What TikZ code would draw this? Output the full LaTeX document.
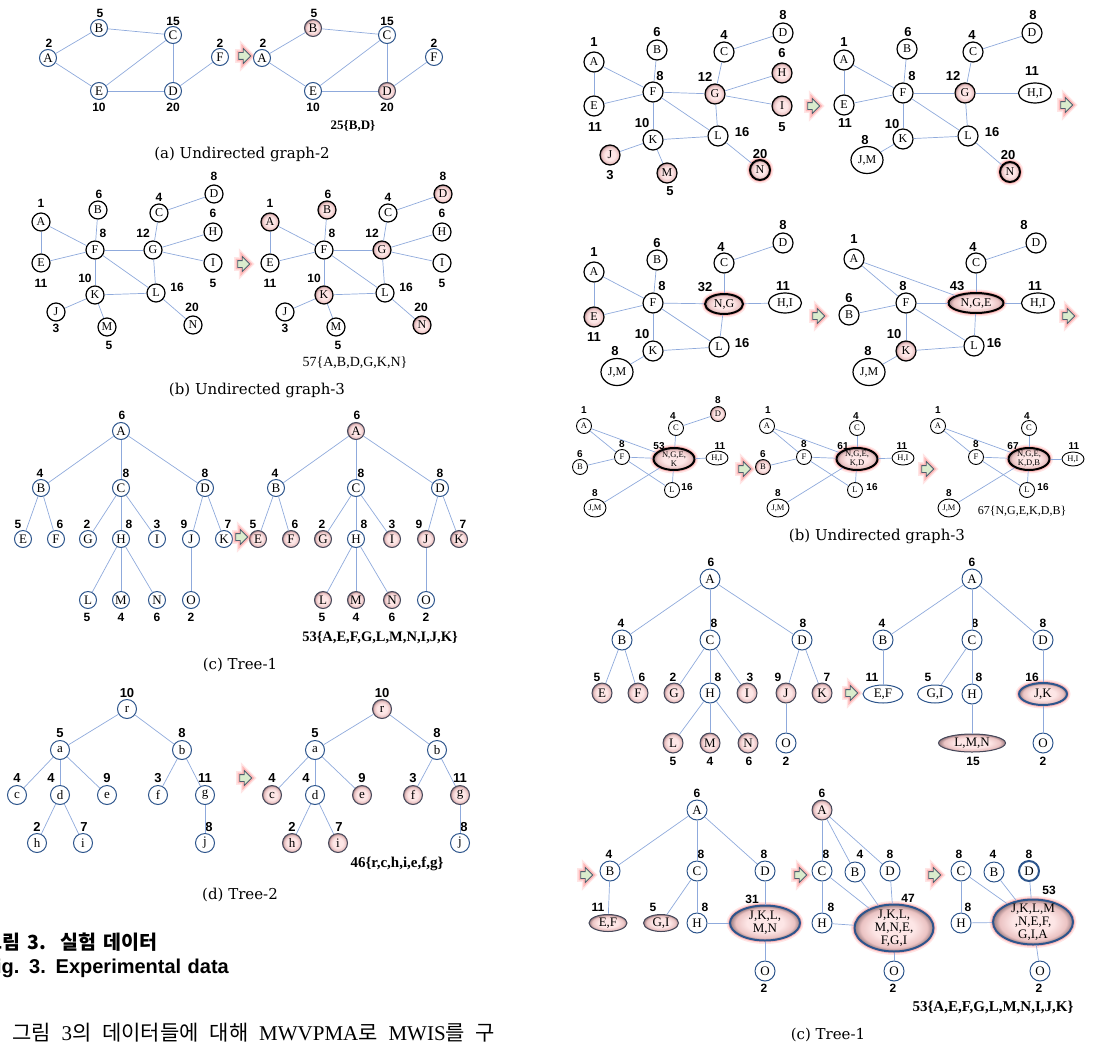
\documentclass[tikz,border=0pt]{standalone}
\usepackage{fontspec}
\setmainfont{Liberation Serif}
\setsansfont{Liberation Sans}
\newfontfamily\capfont{DejaVu Serif}
\newfontfamily\cjk{Noto Sans CJK KR}
\usetikzlibrary{shapes.geometric,shapes.arrows}

\definecolor{nblue}{RGB}{45,85,140}
\definecolor{eblue}{RGB}{143,170,220}
\definecolor{shd}{RGB}{70,72,90}
\definecolor{pk1}{RGB}{253,230,230}
\definecolor{pk2}{RGB}{235,195,195}
\definecolor{pk3}{RGB}{150,120,125}
\definecolor{agreen}{RGB}{218,236,205}
\definecolor{agray}{RGB}{80,95,110}
\pgfdeclareradialshading{pinkball}{\pgfpoint{0bp}{0bp}}{color(0bp)=(pk1); color(13bp)=(pk1); color(21bp)=(pk2); color(25bp)=(pk3); color(50bp)=(pk3)}

\newcommand\fs[1]{\fontsize{#1}{#1}\selectfont}
% vertex with its weight: [style]{name}{pos}{text}{weight pos}{weight}
\newcommand\gv[6][]{\node[nd,#1] (#2) at (#3) {#4}; \node[wt=\ws] (#2w) at (#5) {#6};}

\begin{document}
\begin{tikzpicture}[x=1pt,y=-1pt,
  nd/.style={circle, draw=nblue, line width=1pt, fill=white, inner sep=0pt, minimum size=\vs, align=center, font=\fs{\vf}},
  kn/.style={draw=black, line width=1.2pt},
  sh/.style={shade, shading=pinkball},
  shb/.style={sh, draw=shd},
  thk/.style={line width=2pt},
  glow/.style={preaction={draw=red!40, line width=7pt, opacity=0.25}, preaction={draw=red!60, line width=4pt, opacity=0.35}},
  eg/.style={draw=eblue, line width=0.7pt},
  wt/.style={font=\sffamily\bfseries\fs{#1}, inner sep=0pt},
  arr/.style={single arrow, draw=agray, fill=agreen, line width=0.8pt, inner sep=3pt, minimum height=12pt, single arrow head extend=4pt, glow},
  res/.style={font=\bfseries\fs{#1}, inner sep=0pt},
  rres/.style={font=\fs{#1}, inner sep=0pt},
  figcap/.style={font=\capfont\fs{15}, inner sep=0pt}]
\useasboundingbox (0,0) rectangle (1107,1049);

% (a) Undirected graph-2
\def\vs{17pt}\def\vf{13}\def\ws{12}
\gv{aLA}{48,58}{A}{49,43}{2}
\gv{aLB}{99,28}{B}{100,13}{5}
\gv{aLC}{173,35}{C}{173,21}{15}
\gv{aLD}{173,91}{D}{173,107}{20}
\gv{aLE}{99,91}{E}{99,107}{10}
\gv{aLF}{220,57}{F}{220,43}{2}
\node[arr] (aArr) at (243,56) {};
\gv{aRA}{262,58}{A}{263,43}{2}
\gv[shb]{aRB}{313,28}{B}{314,13}{5}
\gv{aRC}{387,35}{C}{387,21}{15}
\gv[shb]{aRD}{387,91}{D}{387,107}{20}
\gv{aRE}{313,91}{E}{313,107}{10}
\gv{aRF}{434,57}{F}{434,43}{2}
\foreach \g in {aL,aR}
  \foreach \u/\v in {A/B,A/E,B/C,C/E,C/D,E/D,D/F}
    \draw[eg] (\g\u) -- (\g\v);
\node[res=13] (aRes) at (353,126) {25\{B,D\}};
\node[figcap] (aCap) at (242,154) {(a) Undirected graph-2};

% (b) Undirected graph-3
\def\vs{18pt}\def\vf{12}\def\ws{12}
\gv[kn]{bLA}{41,222}{A}{41,203}{1}
\gv[kn]{bLB}{98,210}{B}{99,194}{6}
\gv[kn]{bLC}{159,213}{C}{159,197}{4}
\gv[kn]{bLD}{214,194}{D}{214,176}{8}
\gv[kn]{bLE}{41,263}{E}{41,283}{11}
\gv[kn]{bLF}{95,250}{F}{103,233}{8}
\gv[kn]{bLG}{153,250}{G}{143,233}{12}
\gv[kn]{bLH}{213,232}{H}{213,213}{6}
\gv[kn]{bLI}{213,263}{I}{213,283}{5}
\gv[kn]{bLK}{95,295}{K}{85,278}{10}
\gv[kn]{bLL}{156,293}{L}{177,287}{16}
\gv[kn]{bLJ}{56,312}{J}{56,328}{3}
\gv[kn]{bLM}{107,327}{M}{109,345}{5}
\gv[kn]{bLN}{193,325}{N}{192,307}{20}
\node[arr] (bArr) at (242,264) {};
\gv[kn,sh]{bRA}{270,222}{A}{270,203}{1}
\gv[kn,sh]{bRB}{327,210}{B}{328,194}{6}
\gv[kn]{bRC}{388,213}{C}{388,197}{4}
\gv[kn,sh]{bRD}{443,194}{D}{443,176}{8}
\gv[kn]{bRE}{270,263}{E}{270,283}{11}
\gv[kn]{bRF}{324,250}{F}{332,233}{8}
\gv[kn,sh]{bRG}{382,250}{G}{372,233}{12}
\gv[kn]{bRH}{442,232}{H}{442,213}{6}
\gv[kn]{bRI}{442,263}{I}{442,283}{5}
\gv[kn,sh]{bRK}{324,295}{K}{314,278}{10}
\gv[kn]{bRL}{385,293}{L}{406,287}{16}
\gv[kn]{bRJ}{285,312}{J}{285,328}{3}
\gv[kn]{bRM}{336,327}{M}{338,345}{5}
\gv[kn,sh]{bRN}{422,325}{N}{421,307}{20}
\node[rres=14] (bRes) at (355,363) {57\{A,B,D,G,K,N\}};
\node[figcap] (bCap) at (257,390) {(b) Undirected graph-3};

% (c) Tree-1
\def\vs{17pt}\def\vf{13}\def\ws{12}
\gv{cLA}{121,431}{A}{122,415}{6}
\gv{cLB}{41,488}{B}{40,473}{4}
\gv{cLC}{121,488}{C}{126,473}{8}
\gv{cLD}{205,488}{D}{205,473}{8}
\gv{cLE}{23,539}{E}{18,524}{5}
\gv{cLF}{56,539}{F}{60,524}{6}
\gv{cLG}{88,539}{G}{87,524}{2}
\gv{cLH}{121,539}{H}{129,524}{8}
\gv{cLI}{157,539}{I}{157,524}{3}
\gv{cLJ}{191,539}{J}{184,524}{9}
\gv{cLK}{224,539}{K}{228,524}{7}
\gv{cLL}{88,600}{L}{87,617}{5}
\gv{cLM}{121,600}{M}{121,617}{4}
\gv{cLN}{157,600}{N}{157,617}{6}
\gv{cLO}{191,600}{O}{191,617}{2}
\gv[shb]{cRA}{356,431}{A}{357,415}{6}
\gv{cRB}{276,488}{B}{275,473}{4}
\gv{cRC}{356,488}{C}{361,473}{8}
\gv{cRD}{440,488}{D}{440,473}{8}
\gv[shb]{cRE}{258,539}{E}{253,524}{5}
\gv[shb]{cRF}{291,539}{F}{295,524}{6}
\gv[shb]{cRG}{323,539}{G}{322,524}{2}
\gv{cRH}{356,539}{H}{364,524}{8}
\gv[shb]{cRI}{392,539}{I}{392,524}{3}
\gv[shb]{cRJ}{426,539}{J}{419,524}{9}
\gv[shb]{cRK}{459,539}{K}{463,524}{7}
\gv[shb]{cRL}{323,600}{L}{322,617}{5}
\gv[shb]{cRM}{356,600}{M}{356,617}{4}
\gv[shb]{cRN}{392,600}{N}{392,617}{6}
\gv{cRO}{426,600}{O}{426,617}{2}
\node[arr] (cArr) at (240,537) {};
\foreach \g in {cL,cR}
  \foreach \u/\v in {A/B,A/C,A/D,B/E,B/F,C/G,C/H,C/I,D/J,D/K,H/L,H/M,H/N,J/O}
    \draw[eg] (\g\u) -- (\g\v);
\node[res=14.5] (cRes) at (380,638) {53\{A,E,F,G,L,M,N,I,J,K\}};
\node[figcap] (cCap) at (240,665) {(c) Tree-1};

% (d) Tree-2
\def\vs{19pt}\def\vf{13}\def\ws{13}
\gv{dLr}{127,709}{r}{127,693}{10}
\gv{dLa}{60,750}{a}{60,733}{5}
\gv{dLb}{182,750}{b}{182,733}{8}
\gv{dLc}{17,795}{c}{17,778}{4}
\gv{dLd}{60,795}{d}{51,778}{4}
\gv{dLe}{107,795}{e}{107,778}{9}
\gv{dLf}{158,795}{f}{158,778}{3}
\gv{dLg}{205,795}{g}{205,778}{11}
\gv{dLh}{37,843}{h}{37,827}{2}
\gv{dLi}{83,843}{i}{84,827}{7}
\gv{dLj}{205,843}{j}{209,827}{8}
\node[arr] (dArr) at (244,778) {};
\gv[shb]{dRr}{382,709}{r}{382,693}{10}
\gv{dRa}{315,750}{a}{315,733}{5}
\gv{dRb}{437,750}{b}{437,733}{8}
\gv[shb]{dRc}{272,795}{c}{272,778}{4}
\gv{dRd}{315,795}{d}{306,778}{4}
\gv[shb]{dRe}{362,795}{e}{362,778}{9}
\gv[shb]{dRf}{413,795}{f}{413,778}{3}
\gv[shb]{dRg}{460,795}{g}{460,778}{11}
\gv[shb]{dRh}{292,843}{h}{292,827}{2}
\gv[shb]{dRi}{338,843}{i}{339,827}{7}
\gv{dRj}{460,843}{j}{464,827}{8}
\foreach \g in {dL,dR}
  \foreach \u/\v in {r/a,r/b,a/c,a/d,a/e,d/h,d/i,b/f,b/g,g/j}
    \draw[eg] (\g\u) -- (\g\v);
\node[res=15] (dRes) at (397,864) {46\{r,c,h,i,e,f,g\}};
\node[figcap] (dCap) at (240,895) {(d) Tree-2};

\node[font=\cjk\bfseries\fs{19.5}, anchor=east, inner sep=0pt] (figKo) at (158,942) {\makebox[173pt][s]{그림 3. 실험 데이터}};
\node[font=\sffamily\bfseries\fs{20}, anchor=east, inner sep=0pt] (figEn) at (229,968) {\makebox[245pt][s]{Fig. 3. Experimental data}};
\node[font=\cjk\fs{21}, anchor=west, inner sep=0pt] (body) at (12,1033) {\makebox[483pt][s]{그림 {\rmfamily 3}의 데이터들에 대해 {\rmfamily MWVPMA}로 {\rmfamily MWIS}를 구}};

% right column: graph-3 steps
\def\vs{20pt}\def\vf{12}\def\ws{13}
\gv[kn]{pA}{594,62}{A}{594,42}{1}
\gv[kn]{pB}{657,50}{B}{657,32}{6}
\gv[kn]{pC}{724,52}{C}{724,35}{4}
\gv[kn]{pD}{783,33}{D}{783,15}{8}
\gv[kn]{pE}{594,106}{E}{595,127}{11}
\gv[kn]{pF}{653,92}{F}{660,76}{8}
\gv[kn,sh]{pG}{715,94}{G}{705,77}{12}
\gv[kn,sh]{pH}{782,73}{H}{782,53}{6}
\gv[kn,sh]{pI}{782,106}{I}{782,127}{5}
\gv[kn]{pK}{653,140}{K}{642,123}{10}
\gv[kn]{pL}{718,136}{L}{742,132}{16}
\gv[kn,sh]{pJ}{610,155}{J}{610,175}{3}
\gv[kn,sh]{pM}{667,173}{M}{670,191}{5}
\gv[kn,sh,glow,thk]{pN}{760,170}{N}{760,154}{20}
\node[arr] (pArr) at (812,106) {};
\foreach \g in {bL,bR,p}
  \foreach \u/\v in {A/E,A/F,E/F,B/F,F/G,F/K,F/L,C/G,C/D,G/H,G/I,G/L,K/L,K/J,K/M,L/N}
    \draw[eg] (\g\u) -- (\g\v);

\gv[kn]{qA}{844,60}{A}{844,42}{1}
\gv[kn]{qB}{907,49}{B}{908,32}{6}
\gv[kn]{qC}{973,52}{C}{972,35}{4}
\gv[kn]{qD}{1032,33}{D}{1033,15}{8}
\gv[kn]{qE}{844,105}{E}{845,123}{11}
\gv[kn]{qF}{903,93}{F}{912,76}{8}
\gv[kn,sh]{qG}{965,93}{G}{953,76}{12}
\gv[kn,ellipse,minimum width=33pt,minimum height=20pt]{qHI}{1035,93}{H,I}{1032,71}{11}
\gv[kn]{qK}{903,139}{K}{892,124}{10}
\gv[kn]{qL}{968,136}{L}{992,132}{16}
\gv[kn,ellipse,minimum width=32pt,minimum height=27pt]{qJM}{867,160}{J,M}{865,140}{8}
\gv[kn,sh,glow,thk]{qN}{1010,172}{N}{1008,155}{20}
\node[arr] (qArr) at (1065,105) {};
\foreach \u/\v in {A/E,A/F,E/F,B/F,F/G,F/K,F/L,C/G,C/D,G/HI,G/L,K/L,K/JM,L/N}
  \draw[eg] (q\u) -- (q\v);

\gv[kn]{sA}{594,272}{A}{594,252}{1}
\gv[kn]{sB}{657,260}{B}{657,243}{6}
\gv[kn]{sC}{724,263}{C}{721,247}{4}
\gv[kn]{sD}{783,243}{D}{783,225}{8}
\gv[kn,sh]{sE}{594,317}{E}{594,337}{11}
\gv[kn]{sF}{653,303}{F}{662,286}{8}
\gv[kn,sh,glow,thk,ellipse,minimum width=38pt,minimum height=20pt]{sNG}{724,304}{N,G}{705,287}{32}
\gv[kn,ellipse,minimum width=33pt,minimum height=20pt]{sHI}{785,303}{H,I}{783,286}{11}
\gv[kn]{sK}{653,351}{K}{642,334}{10}
\gv[kn]{sL}{719,347}{L}{742,343}{16}
\gv[kn,ellipse,minimum width=32pt,minimum height=27pt]{sJM}{617,372}{J,M}{615,351}{8}
\node[arr] (sArr) at (817,316) {};
\foreach \u/\v in {A/E,A/F,E/F,B/F,F/NG,F/K,F/L,C/NG,C/D,NG/HI,NG/L,K/L,K/JM}
  \draw[eg] (s\u) -- (s\v);

\gv[kn]{tA}{854,259}{A}{854,239}{1}
\gv[kn]{tB}{849,315}{B}{849,298}{6}
\gv[kn]{tC}{976,263}{C}{973,247}{4}
\gv[kn]{tD}{1036,243}{D}{1024,225}{8}
\gv[kn]{tF}{906,303}{F}{903,286}{8}
\gv[kn,sh,glow,thk,ellipse,minimum width=55pt,minimum height=20pt]{tX}{976,303}{N,G,E}{957,286}{43}
\gv[kn,ellipse,minimum width=33pt,minimum height=20pt]{tHI}{1038,303}{H,I}{1035,286}{11}
\gv[kn,sh]{tK}{906,351}{K}{894,334}{10}
\gv[kn]{tL}{974,346}{L}{994,343}{16}
\gv[kn,ellipse,minimum width=32pt,minimum height=27pt]{tJM}{869,372}{J,M}{868,351}{8}
\node[arr] (tArr) at (1067,316) {};
\foreach \u/\v in {A/F,A/X,B/F,F/X,F/K,F/L,C/X,C/D,X/HI,X/L,K/L,K/JM}
  \draw[eg] (t\u) -- (t\v);

\def\vs{15pt}\def\vf{8.5}\def\ws{10}
\gv[kn,line width=0.9pt]{uA}{584,426}{A}{584,410}{1}
\gv[kn,line width=0.9pt]{uB}{580,467}{B}{580,454}{6}
\gv[kn,line width=0.9pt]{uC}{676,428}{C}{673,416}{4}
\gv[kn,line width=0.9pt,sh]{uD}{718,414}{D}{718,400}{8}
\gv[kn,line width=0.9pt]{uF}{622,457}{F}{622,444}{8}
\gv[kn,sh,glow,thk,ellipse,inner ysep=-2pt,minimum width=41pt,minimum height=22pt]{uX}{674,459}{N,G,E,\\K}{659,446}{53}
\gv[kn,line width=0.9pt,ellipse,minimum width=22pt,minimum height=14pt]{uHI}{717,458}{H,I}{720,446}{11}
\gv[kn,line width=0.9pt]{uL}{672,490}{L}{687,487}{16}
\gv[kn,line width=0.9pt,ellipse,minimum width=22pt,minimum height=18pt]{uJM}{595,508}{J,M}{595,493}{8}
\node[arr] (uArr) at (743,469) {};
\foreach \u/\v in {A/F,A/X,B/F,F/X,F/L,C/X,C/D,X/HI,X/L,JM/X}
  \draw[eg] (u\u) -- (u\v);

\gv[kn,line width=0.9pt]{vA}{767,426}{A}{768,410}{1}
\gv[kn,line width=0.9pt,sh]{vB}{763,467}{B}{763,454}{6}
\gv[kn,line width=0.9pt]{vC}{857,428}{C}{856,416}{4}
\gv[kn,line width=0.9pt]{vF}{804,457}{F}{804,444}{8}
\gv[kn,sh,glow,thk,ellipse,inner ysep=-2pt,minimum width=41pt,minimum height=22pt]{vX}{857,459}{N,G,E,\\K,D}{843,446}{61}
\gv[kn,line width=0.9pt,ellipse,minimum width=22pt,minimum height=14pt]{vHI}{903,458}{H,I}{902,446}{11}
\gv[kn,line width=0.9pt]{vL}{855,490}{L}{872,487}{16}
\gv[kn,line width=0.9pt,ellipse,minimum width=22pt,minimum height=18pt]{vJM}{778,508}{J,M}{778,493}{8}
\node[arr] (vArr) at (926,469) {};
\foreach \u/\v in {A/F,A/X,B/F,F/X,F/L,C/X,X/HI,X/L,JM/X}
  \draw[eg] (v\u) -- (v\v);

\gv[kn,line width=0.9pt]{wA}{938,426}{A}{938,410}{1}
\gv[kn,line width=0.9pt]{wC}{1029,428}{C}{1027,416}{4}
\gv[kn,line width=0.9pt]{wF}{976,457}{F}{976,444}{8}
\gv[kn,sh,glow,thk,ellipse,inner ysep=-2pt,minimum width=41pt,minimum height=22pt]{wX}{1029,459}{N,G,E,\\K,D,B}{1013,446}{67}
\gv[kn,line width=0.9pt,ellipse,minimum width=22pt,minimum height=14pt]{wHI}{1073,459}{H,I}{1074,446}{11}
\gv[kn,line width=0.9pt]{wL}{1027,490}{L}{1043,487}{16}
\gv[kn,line width=0.9pt,ellipse,minimum width=22pt,minimum height=18pt]{wJM}{949,508}{J,M}{949,493}{8}
\foreach \u/\v in {A/F,A/X,F/X,F/L,C/X,X/HI,X/L,JM/X}
  \draw[eg] (w\u) -- (w\v);
\node[rres=12] (wRes) at (1022,511) {67\{N,G,E,K,D,B\}};
\node[figcap] (wCap) at (877,536) {(b) Undirected graph-3};

% right column: Tree-1 steps
\def\vs{20pt}\def\vf{13}\def\ws{12}
\gv{xA}{710,579}{A}{711,562}{6}
\gv{xB}{622,640}{B}{621,623}{4}
\gv{xC}{710,640}{C}{714,623}{8}
\gv{xD}{802,640}{D}{803,623}{8}
\gv[shb]{xE}{602,693}{E}{597,677}{5}
\gv[shb]{xF}{638,693}{F}{642,677}{6}
\gv[shb]{xG}{674,693}{G}{673,677}{2}
\gv{xH}{710,693}{H}{718,677}{8}
\gv[shb]{xI}{747,693}{I}{750,677}{3}
\gv[shb]{xJ}{786,693}{J}{778,677}{9}
\gv[shb]{xK}{822,693}{K}{827,677}{7}
\gv[shb]{xL}{673,743}{L}{673,761}{5}
\gv[shb]{xM}{710,743}{M}{710,761}{4}
\gv[shb]{xN}{748,743}{N}{749,761}{6}
\gv{xO}{786,743}{O}{786,761}{2}
\foreach \u/\v in {A/B,A/C,A/D,B/E,B/F,C/G,C/H,C/I,D/J,D/K,H/L,H/M,H/N,J/O}
  \draw[eg] (x\u) -- (x\v);
\node[arr] (xArr) at (850,693) {};

\gv{yA}{972,579}{A}{972,562}{6}
\gv{yB}{883,640}{B}{882,623}{4}
\gv{yC}{972,640}{C}{975,623}{8}
\gv{yD}{1043,640}{D}{1043,623}{8}
\gv[ellipse,minimum width=40pt,minimum height=18pt]{yEF}{883,694}{E,F}{872,677}{11}
\gv[ellipse,minimum width=35pt,minimum height=18pt]{yGI}{935,694}{G,I}{928,677}{5}
\gv{yH}{972,694}{H}{979,677}{8}
\gv[shb,glow,thk,draw=nblue,ellipse,minimum width=48pt,minimum height=22pt]{yJK}{1043,694}{J,K}{1032,677}{16}
\gv[shb,ellipse,minimum width=67pt,minimum height=18pt]{yLMN}{972,743}{L,M,N}{973,761}{15}
\gv{yO}{1043,743}{O}{1043,761}{2}
\foreach \u/\v in {A/B,A/C,A/D,B/EF,C/GI,C/H,H/LMN,D/JK,JK/O}
  \draw[eg] (y\u) -- (y\v);

\node[arr] (zArr) at (585,875) {};
\gv{zA}{697,810}{A}{697,793}{6}
\gv{zB}{610,871}{B}{609,854}{4}
\gv{zC}{697,871}{C}{701,854}{8}
\gv{zD}{765,871}{D}{764,854}{8}
\gv[shb,ellipse,minimum width=38pt,minimum height=17pt]{zEF}{608,923}{E,F}{598,907}{11}
\gv[shb,ellipse,minimum width=35pt,minimum height=17pt]{zGI}{661,923}{G,I}{653,907}{5}
\gv{zH}{697,923}{H}{705,907}{8}
\gv[shb,glow,thk,draw=nblue,ellipse,inner ysep=-3pt,minimum width=70pt,minimum height=35pt]{zX}{765,923}{J,K,L,\\M,N}{752,899}{31}
\gv{zO}{765,971}{O}{764,988}{2}
\foreach \u/\v in {A/B,A/C,A/D,B/EF,C/GI,C/H,H/X,D/X,X/O}
  \draw[eg] (z\u) -- (z\v);

\node[arr] (mArr) at (799,875) {};
\gv[shb]{mA}{822,810}{A}{822,793}{6}
\gv{mC}{822,871}{C}{826,854}{8}
\gv{mB}{855,872}{B}{860,854}{4}
\gv{mD}{890,871}{D}{890,854}{8}
\gv{mH}{822,923}{H}{831,907}{8}
\gv[shb,glow,thk,draw=nblue,ellipse,inner ysep=-5pt,minimum width=79pt,minimum height=47pt]{mX}{894,928}{J,K,L,\\M,N,E,\\F,G,I}{908,898}{47}
\gv{mO}{894,971}{O}{893,988}{2}
\foreach \u/\v in {A/C,A/B,A/D,C/H,C/X,B/X,D/X,H/X,X/O}
  \draw[eg] (m\u) -- (m\v);

\node[arr] (nArr) at (933,875) {};
\gv{nC}{961,871}{C}{959,854}{8}
\gv{nB}{994,872}{B}{993,854}{4}
\gv[thk]{nD}{1029,871}{D}{1029,854}{8}
\gv{nH}{961,923}{H}{968,907}{8}
\gv[shb,glow,thk,draw=nblue,ellipse,inner ysep=-5pt,minimum width=80pt,minimum height=45pt]{nX}{1033,922}{J,K,L,M\\,N,E,F,\\G,I,A}{1049,890}{53}
\gv{nO}{1040,971}{O}{1039,988}{2}
\foreach \u/\v in {C/H,C/X,B/X,D/X,H/X,X/O}
  \draw[eg] (n\u) -- (n\v);
\node[res=15] (nRes) at (993,1007) {53\{A,E,F,G,L,M,N,I,J,K\}};
\node[figcap] (nCap) at (828,1035) {(c) Tree-1};
\end{tikzpicture}
\end{document}
